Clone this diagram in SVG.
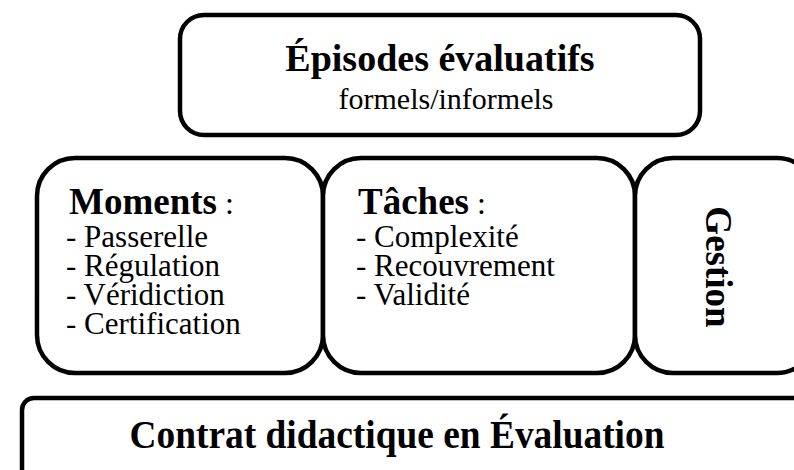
<svg xmlns="http://www.w3.org/2000/svg" width="794" height="470" viewBox="0 0 794 470">
<style>
.box{fill:#fff;stroke:#000;stroke-width:4.5}
text{font-family:"Liberation Serif","DejaVu Serif",serif;fill:#000}
.b{font-weight:bold}
.item{font-size:31px}
.hd{font-size:37px;font-weight:bold}
</style>
<rect width="794" height="470" fill="#fff"/>
<g id="episodes">
<rect class="box" x="180" y="15" width="520" height="120" rx="24"/>
<text class="b" x="440" y="71" font-size="38" text-anchor="middle">Épisodes évaluatifs</text>
<text x="446" y="109" font-size="30" text-anchor="middle">formels/informels</text>
</g>
<g id="moments">
<rect class="box" x="37" y="158" width="286" height="215" rx="38"/>
<text x="69" y="214"><tspan class="hd">Moments</tspan><tspan font-size="32"> :</tspan></text>
<text class="item" x="66" y="247">- Passerelle</text>
<text class="item" x="66" y="276">- Régulation</text>
<text class="item" x="66" y="305">- Véridiction</text>
<text class="item" x="66" y="334">- Certification</text>
</g>
<g id="taches">
<rect class="box" x="323" y="158" width="312" height="215" rx="38"/>
<text x="358" y="214"><tspan class="hd">Tâches</tspan><tspan font-size="32"> :</tspan></text>
<text class="item" x="356" y="247">- Complexité</text>
<text class="item" x="356" y="276">- Recouvrement</text>
<text class="item" x="356" y="305">- Validité</text>
</g>
<g id="gestion">
<rect class="box" x="635" y="158" width="180" height="215" rx="38"/>
<text class="b" font-size="37" text-anchor="middle" transform="translate(706 267) rotate(90)">Gestion</text>
</g>
<g id="contrat">
<rect class="box" x="22" y="398" width="800" height="100" rx="12"/>
<text class="b" x="397" y="448" font-size="40" text-anchor="middle" textLength="535" lengthAdjust="spacingAndGlyphs">Contrat didactique en Évaluation</text>
</g>
<g id="connectors"></g>
</svg>
